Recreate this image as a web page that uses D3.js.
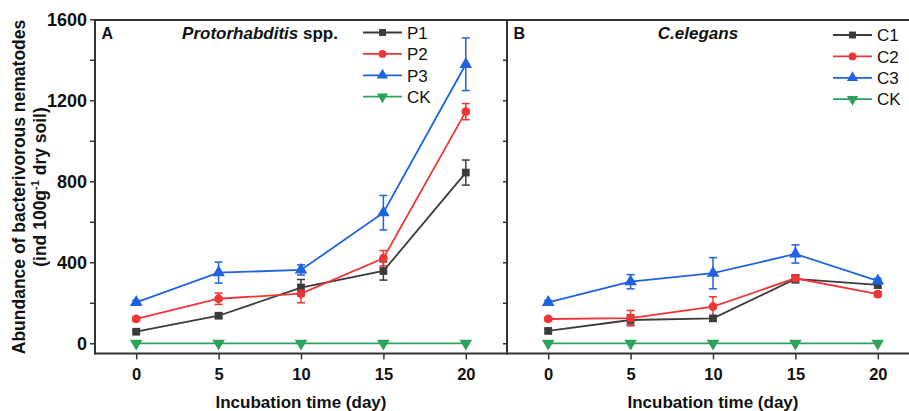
<!DOCTYPE html>
<html lang="en">
<head>
    <meta charset="UTF-8">
    <title>Nematode abundance</title>
    <style>
        body { margin: 0; background: #fff; }
        text { font-family: "Liberation Sans", Arial, sans-serif; }
    </style>
</head>
<body>
    <svg id="chart" width="909" height="411"></svg>
    <script src="https://d3js.org/d3.v7.min.js"></script>
    <script>
    // incubation days
    const days = [0, 5, 10, 15, 20];

    // panel A - Protorhabditis spp.
    const seriesA = ["P1", "P2", "P3", "CK"];
    const meanA = [
        [57, 136, 275, 357, 843],
        [120, 220, 245, 420, 1144],
        [202, 349, 362, 645, 1378],
        [0, 0, 0, 0, 0]
    ];
    const errA = [
        [8, 12, 40, 45, 62],
        [10, 28, 45, 38, 40],
        [10, 52, 25, 85, 130],
        [0, 0, 0, 0, 0]
    ];

    // panel B - C.elegans
    const seriesB = ["C1", "C2", "C3", "CK"];
    const meanB = [
        [61, 115, 123, 318, 288],
        [120, 124, 181, 321, 243],
        [202, 304, 346, 441, 308],
        [0, 0, 0, 0, 0]
    ];
    const errB = [
        [8, 25, 12, 20, 15],
        [8, 38, 49, 15, 12],
        [10, 35, 77, 45, 12],
        [0, 0, 0, 0, 0]
    ];

    const yTicks = [0, 400, 800, 1200, 1600];
    const yMinor = [200, 600, 1000, 1400];

    const colors = ["#3b3b3b", "#f03535", "#1f62e0", "#2ca25c"];
    const symbols = [d3.symbolSquare, d3.symbolCircle, d3.symbolTriangle, "down"];

    const svg = d3.select("#chart");
    const axisColor = "#333";

    const y = d3.scaleLinear().domain([-50, 1600]).range([353.4, 19.3]);

    function marker(g, k, size) {
        if (symbols[k] === "down") {
            g.append("path")
                .attr("d", d3.symbol().type(d3.symbolTriangle).size(size * 1.15)())
                .attr("transform", "rotate(180)");
        } else {
            let s = k === 2 ? size * 1.15 : size;
            g.append("path").attr("d", d3.symbol().type(symbols[k]).size(s)());
        }
    }

    function panel(x0, x1, names, means, errs, label, title, legendX, legendY) {
        const x = d3.scaleLinear().domain([-2.5, 22.5]).range([x0, x1]);
        const g = svg.append("g");

        // error bars
        means.forEach(function (row, k) {
            row.forEach(function (v, i) {
                const e = errs[k][i];
                if (e <= 0) return;
                const cx = x(days[i]);
                const eb = g.append("g").attr("stroke", colors[k]).attr("stroke-width", 1.5);
                eb.append("line").attr("x1", cx).attr("x2", cx).attr("y1", y(v - e)).attr("y2", y(v + e));
                eb.append("line").attr("x1", cx - 4).attr("x2", cx + 4).attr("y1", y(v - e)).attr("y2", y(v - e));
                eb.append("line").attr("x1", cx - 4).attr("x2", cx + 4).attr("y1", y(v + e)).attr("y2", y(v + e));
            });
        });

        // lines
        const line = d3.line().x(function (d, i) { return x(days[i]); }).y(function (d) { return y(d); });
        means.forEach(function (row, k) {
            g.append("path").attr("d", line(row))
                .attr("fill", "none").attr("stroke", colors[k]).attr("stroke-width", 1.8);
        });

        // markers
        means.forEach(function (row, k) {
            row.forEach(function (v, i) {
                const m = g.append("g").attr("fill", colors[k])
                    .attr("transform", "translate(" + x(days[i]) + "," + y(v) + ")");
                marker(m, k, 60);
            });
        });

        // x axis
        const xAxis = d3.axisBottom(x).tickValues(days).tickSize(6).tickPadding(9);
        const ax = svg.append("g").attr("transform", "translate(0,353.4)").call(xAxis);
        ax.select(".domain").remove();
        ax.selectAll(".tick line").attr("stroke", axisColor).attr("stroke-width", 1.5);
        ax.selectAll(".tick text").attr("fill", "#111").style("font-size", "16.5px").style("font-weight", "bold")
            .style("font-family", "'Liberation Sans', Arial, sans-serif");

        svg.append("text").attr("x", x(10)).attr("y", 407.5).attr("text-anchor", "middle")
            .style("font-size", "17px").style("font-weight", "bold").attr("fill", "#111")
            .text("Incubation time (day)");

        // panel letter and title
        svg.append("text").attr("x", x0 + 6.5).attr("y", 39)
            .style("font-size", "16px").style("font-weight", "bold").attr("fill", "#111").text(label);
        const t = svg.append("text").attr("x", title.x).attr("y", 39).attr("text-anchor", "middle")
            .style("font-size", "17px").style("font-weight", "bold").attr("fill", "#111");
        t.append("tspan").style("font-style", "italic").text(title.italic);
        if (title.plain) t.append("tspan").text(title.plain);

        // legend
        names.forEach(function (n, k) {
            const ly = legendY + k * 21.4;
            const lg = svg.append("g");
            lg.append("line").attr("x1", legendX).attr("x2", legendX + 39).attr("y1", ly).attr("y2", ly)
                .attr("stroke", colors[k]).attr("stroke-width", 1.8);
            const m = lg.append("g").attr("fill", colors[k])
                .attr("transform", "translate(" + (legendX + 19.5) + "," + ly + ")");
            marker(m, k, 48);
            lg.append("text").attr("x", legendX + 44).attr("y", ly + 6.2)
                .style("font-size", "17px").attr("fill", "#111").text(n);
        });
    }

    panel(95, 507, seriesA, meanA, errA, "A",
        { x: 260, italic: "Protorhabditis", plain: " spp." }, 363, 32.5);
    panel(507, 919, seriesB, meanB, errB, "B",
        { x: 698, italic: "C.elegans", plain: "" }, 833, 35);

    // y axis (left of A)
    const yAxis = d3.axisLeft(y).tickValues(yTicks).tickSize(5).tickPadding(3).tickFormat(d3.format("d"));
    const ay = svg.append("g").attr("transform", "translate(95,0)").call(yAxis);
    ay.select(".domain").remove();
    ay.selectAll(".tick line").attr("stroke", axisColor).attr("stroke-width", 1.5);
    ay.selectAll(".tick text").attr("fill", "#111").style("font-size", "18px").style("font-weight", "bold")
        .style("font-family", "'Liberation Sans', Arial, sans-serif");
    const ayMinor = svg.append("g").attr("transform", "translate(95,0)")
        .call(d3.axisLeft(y).tickValues(yMinor).tickSize(5).tickFormat(""));
    ayMinor.select(".domain").remove();
    ayMinor.selectAll(".tick line").attr("stroke", axisColor).attr("stroke-width", 1.5);

    // inward ticks on the A/B divider
    const divTicks = svg.append("g").attr("transform", "translate(507,0)")
        .call(d3.axisLeft(y).tickValues(yTicks.concat(yMinor)).tickSize(4).tickFormat(""));
    divTicks.select(".domain").remove();
    divTicks.selectAll(".tick line").attr("stroke", axisColor).attr("stroke-width", 1.5);

    // frame
    const frame = svg.append("g").attr("stroke", axisColor).attr("stroke-width", 2).attr("fill", "none");
    frame.append("line").attr("x1", 95).attr("x2", 909).attr("y1", 20).attr("y2", 20);
    frame.append("line").attr("x1", 95).attr("x2", 909).attr("y1", 353.4).attr("y2", 353.4);
    frame.append("line").attr("x1", 95).attr("x2", 95).attr("y1", 19).attr("y2", 354.4);
    frame.append("line").attr("x1", 507).attr("x2", 507).attr("y1", 19).attr("y2", 354.4);

    // y title
    const yt = svg.append("text").attr("transform", "translate(25,187) rotate(-90)")
        .attr("text-anchor", "middle").style("font-size", "17.5px").style("font-weight", "bold").attr("fill", "#111");
    yt.append("tspan").attr("x", 0).attr("dy", 0).text("Abundance of bacterivorous nematodes");
    yt.append("tspan").attr("x", 0).attr("dy", 21).text("(ind 100g");
    yt.append("tspan").attr("dy", -7).style("font-size", "11px").text("-1");
    yt.append("tspan").attr("dy", 7).text(" dry soil)");
    </script>
</body>
</html>
